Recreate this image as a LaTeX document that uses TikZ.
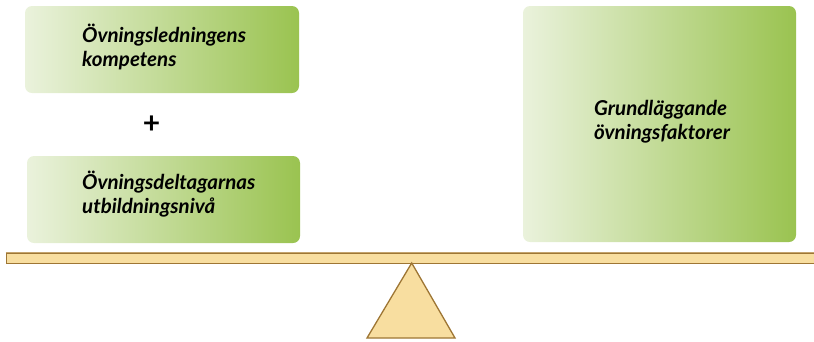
\documentclass[tikz,border=0pt]{standalone}
\usepackage{fontspec}
\setmainfont{Lato}
\definecolor{gleft}{RGB}{234,242,220}
\definecolor{gright}{RGB}{154,195,80}
\definecolor{beamfill}{RGB}{248,222,160}
\definecolor{beamdraw}{RGB}{158,118,52}
\definecolor{beamtop}{RGB}{196,164,110}
\begin{document}
\begin{tikzpicture}[x=1pt,y=-1pt,
  gbox/.style={draw=none,rounded corners=7pt,left color=gleft,right color=gright},
  btext/.style={font=\fontsize{20.5}{24}\selectfont\bfseries\itshape,align=left,anchor=north west,inner sep=0pt}]
\useasboundingbox (0,0) rectangle (814,341);
% boxes
\path[gbox] (25,6) rectangle (299,93);
\node[inner sep=0pt,minimum width=274pt,minimum height=87pt] (b1) at (162,49.5) {};
\path[gbox] (27,156) rectangle (300,243);
\node[inner sep=0pt,minimum width=273pt,minimum height=87pt] (b2) at (163.5,199.5) {};
\path[gbox] (523,6) rectangle (796,242);
\node[inner sep=0pt,minimum width=273pt,minimum height=236pt] (b3) at (659.5,124) {};
% texts
\node[btext] (t1) at (82,23.5) {Övningsledningens\\kompetens};
\node[btext] (t2) at (82,171) {Övningsdeltagarnas\\utbildningsnivå};
\node[btext] (t3) at (594,100) {Grundläggande\\övningsfaktorer};
\node[font=\fontsize{30}{30}\selectfont\bfseries,inner sep=0pt] (plus) at (151.5,124.5) {+};
% beam
\node[draw=beamdraw,fill=beamfill,line width=1pt,inner sep=0pt,anchor=north west,minimum width=812pt,minimum height=10.5pt] (beam) at (5.5,252.5) {};
\draw[beamtop,line width=1pt] (5.5,252.5) -- (814,252.5);
% fulcrum
\coordinate (apex) at (411.7,263);
\coordinate (bl) at (367,338);
\coordinate (br) at (455,338);
\draw[draw=beamdraw,fill=beamfill,line width=1.3pt,line join=miter] (apex) -- (br) -- (bl) -- cycle;
\end{tikzpicture}
\end{document}
